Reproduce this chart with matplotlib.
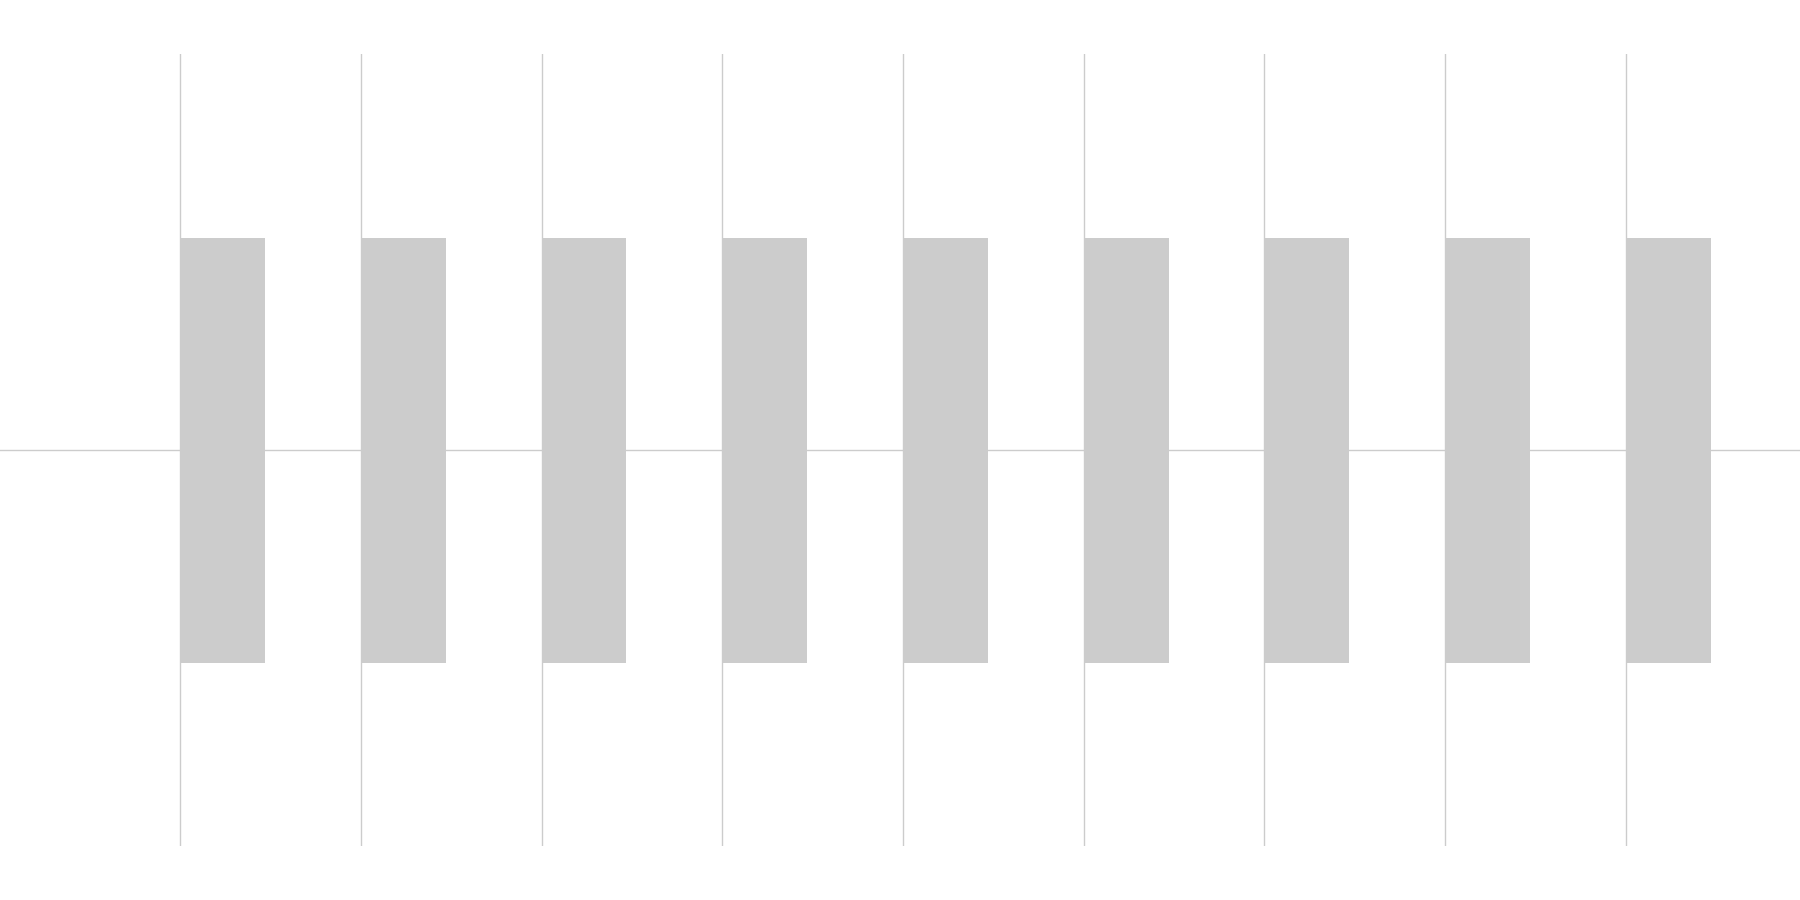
import numpy as np
import matplotlib
matplotlib.use('Agg')
import matplotlib.pyplot as plt

# nine categories, each bar spans symmetric around zero
categories = ['1', '2', '3', '4', '5', '6', '7', '8', '9']
upper = [0.535, 0.535, 0.535, 0.535, 0.535, 0.535, 0.535, 0.535, 0.535]
lower = [-0.537, -0.537, -0.537, -0.537, -0.537, -0.537, -0.537, -0.537, -0.537]

fig = plt.figure(figsize=(18, 9), dpi=100)
ax = fig.add_axes([0, 0.06, 1, 0.88])

x = np.arange(len(categories))
heights = np.array(upper) - np.array(lower)
ax.bar(x, heights, bottom=lower, width=0.47, align='edge',
       color='#cccccc', linewidth=0, zorder=2)

ax.set_xlim(-0.996, 8.963)
ax.set_ylim(-1, 1)
ax.set_xticks(x)
ax.set_yticks([])
ax.grid(axis='x', color='#cccccc', linewidth=1, zorder=0)
ax.axhline(0, color='#cccccc', linewidth=1, zorder=1)
ax.tick_params(length=0, labelbottom=False, labelleft=False)
for s in ax.spines.values():
    s.set_visible(False)

fig.savefig('out.png', dpi=100)
